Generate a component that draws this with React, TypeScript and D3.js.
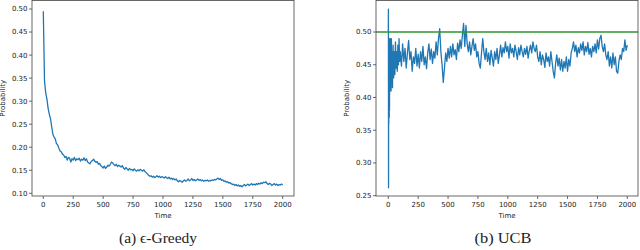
import React from "react";
import * as d3 from "d3";

// epsilon-greedy curve, one value every 10 steps from 0 to 2000
const greedyTimes = d3.range(0, 2001, 10);
const greedyValues = [
  0.495, 0.345, 0.318, 0.305, 0.285, 0.272, 0.262, 0.245, 0.228, 0.222,
  0.218, 0.208, 0.205, 0.198, 0.192, 0.19, 0.185, 0.183, 0.178, 0.18,
  0.172, 0.178, 0.176, 0.168, 0.175, 0.172, 0.178, 0.171, 0.175, 0.173,
  0.176, 0.17, 0.174, 0.172, 0.177, 0.171, 0.175, 0.168, 0.166, 0.164,
  0.169, 0.171, 0.174, 0.17, 0.167, 0.169, 0.163, 0.165, 0.16, 0.158,
  0.155, 0.159, 0.154, 0.157, 0.161, 0.159, 0.163, 0.168, 0.166, 0.162,
  0.16, 0.163, 0.158, 0.161, 0.159, 0.157, 0.16, 0.155, 0.152, 0.156,
  0.153, 0.15, 0.154, 0.151, 0.152, 0.149, 0.153, 0.15, 0.148, 0.151,
  0.149, 0.152, 0.15, 0.148, 0.151, 0.147, 0.145, 0.142, 0.139, 0.137,
  0.138, 0.135, 0.137, 0.134, 0.136, 0.138, 0.135, 0.137, 0.134, 0.136,
  0.135, 0.133, 0.136, 0.134, 0.132, 0.135, 0.131, 0.133, 0.13, 0.132,
  0.129, 0.131, 0.127, 0.125, 0.128, 0.126, 0.124, 0.127, 0.129, 0.126,
  0.128, 0.131, 0.127, 0.129, 0.132, 0.128, 0.13, 0.127, 0.129, 0.131,
  0.128, 0.13, 0.127, 0.129, 0.126, 0.128, 0.127, 0.129, 0.126, 0.128,
  0.127, 0.129, 0.128, 0.13, 0.129, 0.131, 0.133, 0.13, 0.132, 0.128,
  0.129, 0.126, 0.127, 0.124, 0.125, 0.122, 0.123, 0.121, 0.119, 0.12,
  0.117, 0.119, 0.116, 0.118, 0.115, 0.117, 0.114, 0.117, 0.119, 0.116,
  0.118, 0.12, 0.117, 0.119, 0.121, 0.118, 0.12, 0.118, 0.121, 0.119,
  0.122, 0.12, 0.123, 0.121, 0.124, 0.123, 0.125, 0.121, 0.119, 0.122,
  0.12, 0.117, 0.119, 0.121, 0.118, 0.12, 0.117, 0.119, 0.118, 0.12,
  0.118,
];

// UCB curve: dense start, then every 10 steps from 100 to 2000
const ucbEarlyTimes = [
  0, 1, 2, 3, 4, 5, 6, 7, 8, 9, 10, 12, 14, 16, 18, 20, 23, 26, 29, 32, 35,
  40, 45, 50, 55, 60, 65, 70, 75, 80, 85, 90, 95,
];
const ucbEarlyValues = [
  0.5, 0.535, 0.262, 0.49, 0.36, 0.48, 0.4, 0.49, 0.37, 0.46, 0.38, 0.47,
  0.41, 0.49, 0.42, 0.475, 0.41, 0.49, 0.43, 0.47, 0.415, 0.48, 0.43, 0.47,
  0.435, 0.485, 0.445, 0.47, 0.44, 0.48, 0.45, 0.49, 0.455,
];
const ucbLateTimes = d3.range(100, 2001, 10);
const ucbLateValues = [
  0.47, 0.448, 0.482, 0.455, 0.475, 0.445, 0.468, 0.487, 0.458, 0.47,
  0.44, 0.462, 0.452, 0.475, 0.448, 0.466, 0.445, 0.47, 0.455, 0.478,
  0.45, 0.462, 0.444, 0.468, 0.482, 0.458, 0.474, 0.452, 0.47, 0.46,
  0.485, 0.465, 0.49, 0.505, 0.47, 0.45, 0.423, 0.445, 0.468, 0.455,
  0.475, 0.46, 0.478, 0.462, 0.482, 0.465, 0.473, 0.458, 0.483, 0.47,
  0.488, 0.475, 0.495, 0.513, 0.478, 0.51, 0.482, 0.47, 0.485, 0.465,
  0.478, 0.49, 0.472, 0.482, 0.462, 0.47, 0.452, 0.445, 0.468, 0.49,
  0.47, 0.458, 0.475, 0.455, 0.468, 0.45, 0.472, 0.46, 0.448, 0.47,
  0.458, 0.475, 0.452, 0.465, 0.48, 0.462, 0.476, 0.468, 0.485, 0.47,
  0.478, 0.46, 0.482, 0.468, 0.475, 0.462, 0.48, 0.47, 0.458, 0.476,
  0.465, 0.48, 0.47, 0.462, 0.475, 0.466, 0.478, 0.46, 0.472, 0.48,
  0.468, 0.485, 0.475, 0.47, 0.48, 0.462, 0.455, 0.47, 0.45, 0.465,
  0.458, 0.446, 0.468, 0.455, 0.462, 0.448, 0.47, 0.455, 0.44, 0.43,
  0.452, 0.465, 0.448, 0.46, 0.442, 0.458, 0.44, 0.455, 0.445, 0.462,
  0.44, 0.458, 0.448, 0.468, 0.475, 0.485, 0.47, 0.48, 0.462, 0.476,
  0.468, 0.482, 0.472, 0.485, 0.465, 0.478, 0.47, 0.484, 0.466, 0.475,
  0.462, 0.478, 0.47, 0.482, 0.468, 0.488, 0.474, 0.49, 0.495, 0.478,
  0.47, 0.482, 0.465, 0.458, 0.47, 0.448, 0.462, 0.445, 0.468, 0.45,
  0.462, 0.44, 0.437, 0.455, 0.465, 0.458, 0.475, 0.47, 0.488, 0.472,
  0.48,
];
const ucbOptimal = 0.5;

const timeTicks = [0, 250, 500, 750, 1000, 1250, 1500, 1750, 2000];
const greedyTicks = [0.1, 0.15, 0.2, 0.25, 0.3, 0.35, 0.4, 0.45, 0.5];
const ucbTicks = [0.25, 0.3, 0.35, 0.4, 0.45, 0.5];

const blue = "#1f77b4";
const green = "#2f962f";
const frameColor = "#444";
const font = "'DejaVu Sans', sans-serif";

type Pt = { t: number; v: number };

const Panel = ({
  box, x, y, yTicks, pts, caption, captionX, captionLen, hline,
}: {
  box: { left: number; right: number; top: number; bottom: number };
  x: d3.ScaleLinear<number, number>;
  y: d3.ScaleLinear<number, number>;
  yTicks: number[];
  pts: Pt[];
  caption: string;
  captionX: number;
  captionLen: number;
  hline?: number;
}) => {
  const line = d3.line<Pt>().x(d => x(d.t)).y(d => y(d.v));
  const cx = (box.left + box.right) / 2;
  const clipId = `clip${box.left}`;
  return (
    <g>
      <clipPath id={clipId}>
        <rect x={box.left} y={box.top} width={box.right - box.left} height={box.bottom - box.top} />
      </clipPath>
      <path d={line(pts) || ""} fill="none" stroke={blue} strokeWidth={1.3} strokeLinejoin="round" clipPath={`url(#${clipId})`} />
      {hline !== undefined && (
        <line x1={box.left} x2={box.right} y1={y(hline)} y2={y(hline)} stroke={green} strokeWidth={1.3} />
      )}
      <rect x={box.left} y={box.top} width={box.right - box.left} height={box.bottom - box.top}
        fill="none" stroke={frameColor} strokeWidth={0.8} />
      {timeTicks.map(t => (
        <g key={t} transform={`translate(${x(t)}, ${box.bottom})`}>
          <line y2={3} stroke={frameColor} strokeWidth={0.8} />
          <text y={10.5} textAnchor="middle" fontSize={7} fontFamily={font} fill="#222">{t}</text>
        </g>
      ))}
      {yTicks.map(v => (
        <g key={v} transform={`translate(${box.left}, ${y(v)})`}>
          <line x2={-3} stroke={frameColor} strokeWidth={0.8} />
          <text x={-4.5} dy="0.35em" textAnchor="end" fontSize={7} fontFamily={font} fill="#222">{v.toFixed(2)}</text>
        </g>
      ))}
      <text x={cx} y={218} textAnchor="middle" fontSize={7} fontFamily={font} fill="#222">Time</text>
      <text transform={`translate(${box.left - 27}, ${(box.top + box.bottom) / 2}) rotate(-90)`}
        textAnchor="middle" fontSize={7} fontFamily={font} fill="#222">Probability</text>
      <text x={captionX} y={243} textAnchor="middle" fontSize={14} fontFamily="'Liberation Serif', serif"
        fill="#222" textLength={captionLen} lengthAdjust="spacingAndGlyphs">{caption}</text>
    </g>
  );
};

export default function App() {
  const greedyPts = greedyTimes.map((t, i) => ({ t, v: greedyValues[i] }));
  const ucbPts = [
    ...ucbEarlyTimes.map((t, i) => ({ t, v: ucbEarlyValues[i] })),
    ...ucbLateTimes.map((t, i) => ({ t, v: ucbLateValues[i] })),
  ];

  const leftBox = { left: 32, right: 294, top: 0.5, bottom: 196 };
  const rightBox = { left: 376, right: 638, top: 0.5, bottom: 196 };

  const xLeft = d3.scaleLinear().domain([0, 2000]).range([43.3, 282.7]);
  const yLeft = d3.scaleLinear().domain([0.1, 0.5]).range([193.3, 9]);
  const xRight = d3.scaleLinear().domain([0, 2000]).range([388.3, 627.3]);
  const yRight = d3.scaleLinear().domain([0.25, 0.5]).range([195.7, 32]);

  return (
    <svg width={640} height={250} style={{ position: "absolute", left: 0, top: 0, background: "#fff" }}>
      <rect width={640} height={250} fill="#fff" />
      <Panel box={leftBox} x={xLeft} y={yLeft} yTicks={greedyTicks} pts={greedyPts}
        caption="(a) ϵ-Greedy" captionX={158} captionLen={78} />
      <Panel box={rightBox} x={xRight} y={yRight} yTicks={ucbTicks} pts={ucbPts}
        caption="(b) UCB" captionX={503} captionLen={57} hline={ucbOptimal} />
    </svg>
  );
}
